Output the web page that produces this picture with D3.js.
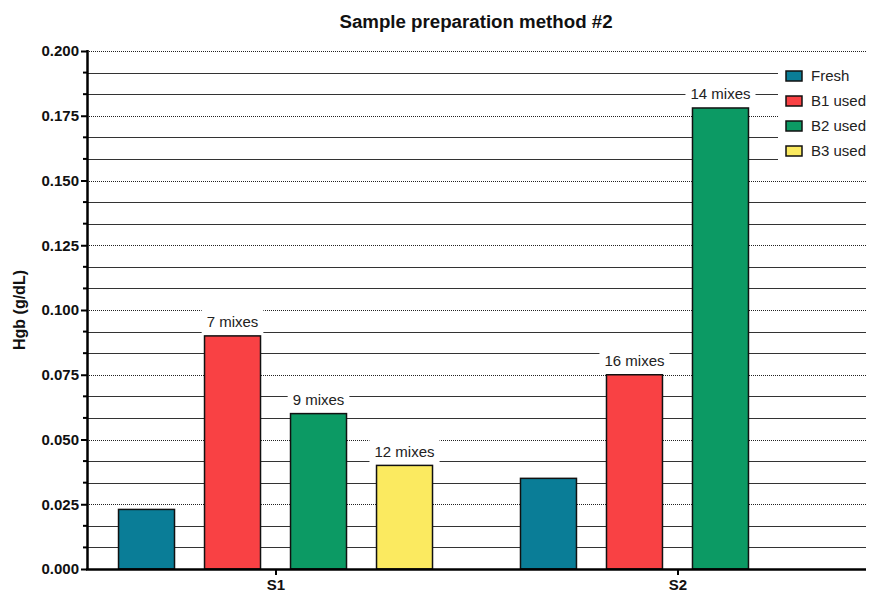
<!DOCTYPE html>
<html>
<head>
<meta charset="utf-8">
<script src="https://cdn.jsdelivr.net/npm/d3@7"></script>
<style>
  html, body { margin: 0; padding: 0; background: #fff; }
  svg { display: block; font-family: "Liberation Sans", Arial, sans-serif; }
</style>
</head>
<body>
<svg id="chart" width="869" height="594"></svg>
<script>
// Hemoglobin readings per sample and blood batch
const samples = ["S1", "S2"];
const series = ["Fresh", "B1 used", "B2 used", "B3 used"];
const colors = ["#0a7d97", "#f94144", "#0c9a64", "#fbea60"];
const valuesS1 = [0.023, 0.090, 0.060, 0.040];
const valuesS2 = [0.035, 0.075, 0.178, null];
const mixLabelsS1 = [null, "7 mixes", "9 mixes", "12 mixes"];
const mixLabelsS2 = [null, "16 mixes", "14 mixes", null];
const yTicks = [0, 0.025, 0.05, 0.075, 0.1, 0.125, 0.15, 0.175, 0.2];
const titleText = "Sample preparation method #2";
const yLabel = "Hgb (g/dL)";

const rows = samples.map((s, i) => ({
  sample: s,
  values: i === 0 ? valuesS1 : valuesS2,
  labels: i === 0 ? mixLabelsS1 : mixLabelsS2
}));

const svg = d3.select("#chart");
const plotLeft = 87, plotRight = 866, plotTop = 51, plotBottom = 569;
const fontFam = "Liberation Sans, Arial, sans-serif";

const y = d3.scaleLinear().domain([0, 0.2]).range([plotBottom, plotTop]);
const x0 = d3.scalePoint().domain(samples).range([plotLeft, plotRight]).padding(0.469);
const x1 = d3.scaleBand().domain(series).range([-172, 172])
  .paddingInner(0.349).paddingOuter(0.1745);

// Minor gridlines (solid), three per major interval
const minorTicks = d3.range(0, 25).map(i => i * 0.2 / 24).filter((v, i) => i % 3 !== 0);
const grid = svg.append("g");
grid.selectAll("line.minor").data(minorTicks).join("line")
  .attr("class", "minor")
  .attr("x1", plotLeft).attr("x2", plotRight)
  .attr("y1", d => Math.round(y(d)) + 0.5).attr("y2", d => Math.round(y(d)) + 0.5)
  .attr("stroke", "#333").attr("stroke-width", 1);
grid.selectAll("line.major").data(yTicks.filter(d => d > 0)).join("line")
  .attr("class", "major")
  .attr("x1", plotLeft).attr("x2", plotRight)
  .attr("y1", d => Math.round(y(d)) + 0.5).attr("y2", d => Math.round(y(d)) + 0.5)
  .attr("stroke", "#222").attr("stroke-width", 1).attr("stroke-dasharray", "1,1");

// Bars
const groups = svg.append("g").selectAll("g").data(rows).join("g")
  .attr("transform", d => `translate(${x0(d.sample)},0)`);

groups.selectAll("rect").data(d => d.values.map((v, i) => ({ key: series[i], v, i })).filter(d => d.v != null))
  .join("rect")
  .attr("x", d => x1(d.key)).attr("width", x1.bandwidth())
  .attr("y", d => y(d.v)).attr("height", d => y(0) - y(d.v))
  .attr("fill", d => colors[d.i]).attr("stroke", "#111").attr("stroke-width", 1.5);

// Mix-count annotations with white backing sized to the text
const ann = groups.selectAll("g.ann")
  .data(d => d.values.map((v, i) => ({ key: series[i], v, label: d.labels[i] })).filter(d => d.label))
  .join("g").attr("class", "ann")
  .attr("transform", d => `translate(${x1(d.key) + x1.bandwidth() / 2},${y(d.v) - 14})`);
ann.append("rect").attr("fill", "#fff");
const annText = ann.append("text")
  .attr("text-anchor", "middle").attr("dy", "0.35em")
  .attr("font-size", 15).attr("fill", "#222")
  .text(d => d.label);
annText.each(function () {
  const w = this.getComputedTextLength();
  d3.select(this.previousSibling)
    .attr("x", -w / 2 - 5).attr("width", w + 10)
    .attr("y", -13).attr("height", 25);
});

// Y axis with minor ticks
const yAxis = svg.append("g").attr("transform", `translate(${plotLeft},0)`);
yAxis.selectAll("line.mt").data(minorTicks).join("line")
  .attr("x1", -4).attr("x2", 0)
  .attr("y1", d => y(d)).attr("y2", d => y(d))
  .attr("stroke", "#000").attr("stroke-width", 2);
yAxis.call(d3.axisLeft(y).tickValues(yTicks).tickFormat(d3.format(".3f")).tickSize(6).tickPadding(2))
  .call(g => g.select(".domain").attr("stroke-width", 2.5).attr("d", `M0.5,${plotBottom + 1}V${plotTop - 1}`))
  .call(g => g.selectAll(".tick line").attr("stroke-width", 2))
  .call(g => g.selectAll(".tick text").attr("font-size", 15).attr("font-weight", "bold")
    .attr("font-family", fontFam).attr("fill", "#111"));

// X axis
const xAxis = svg.append("g").attr("transform", `translate(0,${plotBottom})`);
xAxis.call(d3.axisBottom(x0).tickSize(6).tickPadding(4))
  .call(g => g.select(".domain").attr("stroke-width", 2.5).attr("d", `M${plotLeft - 1},0.5H${plotRight}`))
  .call(g => g.selectAll(".tick line").attr("stroke-width", 2))
  .call(g => g.selectAll(".tick text").attr("font-size", 15).attr("font-weight", "bold")
    .attr("font-family", fontFam).attr("fill", "#111"));

// Title and axis label
svg.append("text").attr("x", 476).attr("y", 28).attr("text-anchor", "middle")
  .attr("font-size", 18.7).attr("font-weight", "bold").attr("fill", "#111").text(titleText);
svg.append("text").attr("transform", `translate(25,${(plotTop + plotBottom) / 2}) rotate(-90)`)
  .attr("text-anchor", "middle").attr("font-size", 16).attr("font-weight", "bold")
  .attr("fill", "#111").text(yLabel);

// Legend on a white panel
const legend = svg.append("g").attr("transform", "translate(778,62)");
legend.append("rect").attr("x", 0).attr("y", 0).attr("width", 91).attr("height", 103).attr("fill", "#fff");
const items = legend.selectAll("g.item").data(series).join("g").attr("class", "item")
  .attr("transform", (d, i) => `translate(0,${14 + i * 25})`);
items.append("rect").attr("x", 8).attr("y", -5).attr("width", 16).attr("height", 10)
  .attr("fill", (d, i) => colors[i]).attr("stroke", "#111").attr("stroke-width", 1.5);
items.append("text").attr("x", 33).attr("dy", "0.35em").attr("font-size", 15)
  .attr("fill", "#222").text(d => d);
</script>
</body>
</html>
